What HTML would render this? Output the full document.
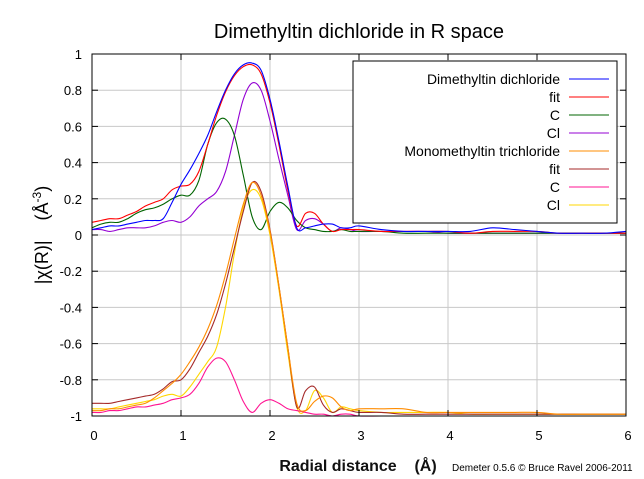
<!DOCTYPE html>
<html><head><meta charset="utf-8"><style>
html,body{margin:0;padding:0;background:#fff;}
svg{display:block;font-family:"Liberation Sans",sans-serif;}
.pre{white-space:pre;}
</style></head><body>
<svg id="chart" width="644" height="479" viewBox="0 0 644 479" xmlns="http://www.w3.org/2000/svg">
<rect width="644" height="479" fill="#fff"/>
<text x="359" y="38" font-size="20" text-anchor="middle">Dimethyltin dichloride in R space</text>
<g id="grid"></g>
<g id="series"></g>
<rect x="92" y="54" width="534" height="362" fill="none" stroke="#000" stroke-width="1"/>
<g id="ticks"></g>
<g id="legend"></g>
<text class="pre" transform="translate(48,235) rotate(-90)" font-size="18" text-anchor="middle">|χ(R)|    (Å<tspan font-size="12" dy="-7">-3</tspan><tspan dy="7">)</tspan></text>
<text class="pre" x="358" y="471" font-size="16" text-anchor="middle" font-weight="bold" fill="#111">Radial distance    (Å)</text>
<text x="452" y="471" font-size="10">Demeter 0.5.6 © Bruce Ravel 2006-2011</text>
</svg>
<script>
const r = [0,.1,.2,.3,.4,.5,.6,.7,.8,.9,1.0,1.1,1.2,1.3,1.4,1.5,1.6,1.7,1.8,1.9,2.0,2.1,2.2,2.3,2.4,2.5,2.6,2.7,2.8,2.9,3.0,3.25,3.5,3.75,4,4.25,4.5,4.75,5,5.25,5.5,5.75,6];
const dmtcData = [.03,.04,.05,.05,.06,.07,.08,.08,.09,.18,.28,.36,.45,.55,.68,.80,.89,.94,.95,.91,.75,.52,.27,.04,.04,.05,.06,.06,.04,.04,.05,.03,.02,.02,.02,.02,.04,.03,.02,.01,.01,.01,.02];
const dmtcFit = [.07,.08,.09,.09,.11,.13,.16,.18,.20,.25,.27,.28,.35,.50,.66,.79,.88,.93,.94,.89,.73,.50,.25,.05,.12,.12,.06,.02,.03,.03,.03,.02,.02,.02,.02,.01,.02,.02,.02,.01,.01,.01,.01];
const dmtcC = [.04,.06,.07,.07,.09,.12,.14,.15,.17,.20,.22,.22,.30,.50,.62,.64,.55,.33,.10,.03,.13,.18,.15,.08,.04,.03,.02,.02,.03,.02,.02,.02,.01,.01,.01,.01,.01,.01,.01,.01,.01,.01,.01];
const dmtcCl = [.03,.03,.02,.03,.04,.04,.04,.05,.07,.08,.07,.10,.16,.20,.24,.35,.55,.75,.84,.80,.63,.42,.22,.03,.08,.09,.06,.02,.04,.03,.02,.02,.02,.02,.01,.01,.01,.01,.01,.01,.01,.01,.01];
const mmtcData = [-.97,-.97,-.96,-.96,-.95,-.94,-.93,-.90,-.86,-.82,-.77,-.70,-.62,-.52,-.39,-.22,-.02,.17,.29,.22,.02,-.28,-.62,-.93,-.97,-.92,-.89,-.90,-.95,-.97,-.96,-.96,-.96,-.98,-.98,-.98,-.98,-.98,-.98,-.99,-.99,-.99,-.99];
const mmtcFit = [-.93,-.93,-.93,-.92,-.91,-.90,-.89,-.88,-.85,-.81,-.80,-.74,-.65,-.56,-.44,-.27,-.07,.13,.29,.24,.03,-.28,-.62,-.95,-.86,-.84,-.94,-.98,-.96,-.97,-.98,-.98,-.99,-.99,-.99,-.99,-.99,-.99,-.99,-.99,-.99,-.99,-.99];
const mmtcC = [-.98,-.98,-.97,-.97,-.96,-.95,-.95,-.94,-.93,-.91,-.90,-.88,-.82,-.73,-.68,-.70,-.80,-.92,-.98,-.93,-.91,-.93,-.96,-.97,-.98,-.99,-.99,-1,-.99,-.99,-1,-1,-1,-1,-1,-1,-1,-1,-1,-1,-1,-1,-1];
const mmtcCl = [-.96,-.96,-.96,-.95,-.94,-.93,-.92,-.91,-.89,-.88,-.89,-.84,-.77,-.70,-.62,-.40,-.10,.15,.25,.20,.00,-.30,-.65,-.95,-.97,-.86,-.90,-.98,-.95,-.96,-.97,-.98,-.98,-.98,-.98,-.99,-.99,-.99,-.99,-.99,-.99,-.99,-.99];
const xTicks = ["0","1","2","3","4","5","6"];
const yTicks = ["-1","-0.8","-0.6","-0.4","-0.2","0","0.2","0.4","0.6","0.8","1"];
const legendLabels = ["Dimethyltin dichloride","fit","C","Cl","Monomethyltin trichloride","fit","C","Cl"];

const NS="http://www.w3.org/2000/svg";
const X0=92,X1=626,Y0=416,Y1=54;
const xs=v=>X0+(v-0)/(6-0)*(X1-X0);
const ys=v=>Y0-(v+1)/2*(Y0-Y1);
function mk(t,a){const e=document.createElementNS(NS,t);for(const k in a)e.setAttribute(k,a[k]);return e;}
const grid=document.getElementById('grid'),ticks=document.getElementById('ticks');
xTicks.forEach(t=>{const v=+t,x=xs(v);
 if(v>0&&v<6){const l=mk('line',{x1:x,x2:x,y1:Y1,y2:Y0,stroke:'#c8c8c8'});grid.appendChild(l);}
 const a=mk('line',{x1:x,x2:x,y1:Y0,y2:Y0-6,stroke:'#000'});ticks.appendChild(a);
 const b=mk('line',{x1:x,x2:x,y1:Y1,y2:Y1+6,stroke:'#000'});ticks.appendChild(b);
 const tx=mk('text',{x:x+2,y:Y0+24,'font-size':13,'text-anchor':'middle'});tx.textContent=t;ticks.appendChild(tx);});
yTicks.forEach(t=>{const v=+t,y=ys(v);
 if(v>-1&&v<1){const l=mk('line',{x1:X0,x2:X1,y1:y,y2:y,stroke:'#c8c8c8'});grid.appendChild(l);}
 const a=mk('line',{x1:X0,x2:X0+6,y1:y,y2:y,stroke:'#000'});ticks.appendChild(a);
 const b=mk('line',{x1:X1,x2:X1-6,y1:y,y2:y,stroke:'#000'});ticks.appendChild(b);
 const tx=mk('text',{x:X0-10,y:y+5,'font-size':13,'text-anchor':'end'});tx.textContent=t;ticks.appendChild(tx);});
function path(vals){const p=vals.map((v,i)=>[xs(r[i]),ys(v)]);let d='M'+p[0][0].toFixed(1)+','+p[0][1].toFixed(1);
 for(let i=0;i<p.length-1;i++){const a=p[Math.max(i-1,0)],b=p[i],c=p[i+1],e=p[Math.min(i+2,p.length-1)];
  const c1=[b[0]+(c[0]-a[0])/6,b[1]+(c[1]-a[1])/6],c2=[c[0]-(e[0]-b[0])/6,c[1]-(e[1]-b[1])/6];
  d+=' C'+c1[0].toFixed(1)+','+c1[1].toFixed(1)+' '+c2[0].toFixed(1)+','+c2[1].toFixed(1)+' '+c[0].toFixed(1)+','+c[1].toFixed(1);}
 return d;}
const series=[[dmtcData,'#0000ff','dmtc-data-line'],[dmtcFit,'#ff0000','dmtc-fit-line'],[dmtcC,'#006400','dmtc-c-line'],[dmtcCl,'#9400d3','dmtc-cl-line'],
[mmtcData,'#ff8c00','mmtc-data-line'],[mmtcFit,'#a52a2a','mmtc-fit-line'],[mmtcC,'#ff1493','mmtc-c-line'],[mmtcCl,'#ffd700','mmtc-cl-line']];
const sg=document.getElementById('series');
[3,2,1,0,7,6,5,4].forEach(i=>{const s=series[i];const e=mk('path',{d:path(s[0]),fill:'none',stroke:s[1],'stroke-width':1.1});
 sg.appendChild(e);});
const lg=document.getElementById('legend');
const box=mk('rect',{x:353,y:61,width:264,height:162,fill:'#fff',stroke:'#000'});
lg.appendChild(box);
legendLabels.forEach((t,i)=>{const y=79+i*18;
 const tx=mk('text',{x:560,y:y+5,'font-size':14,'text-anchor':'end'});tx.textContent=t;
 lg.appendChild(tx);
 const l=mk('line',{x1:569,x2:609,y1:y,y2:y,stroke:series[i][1]});
 lg.appendChild(l);});
</script>
</body></html>
